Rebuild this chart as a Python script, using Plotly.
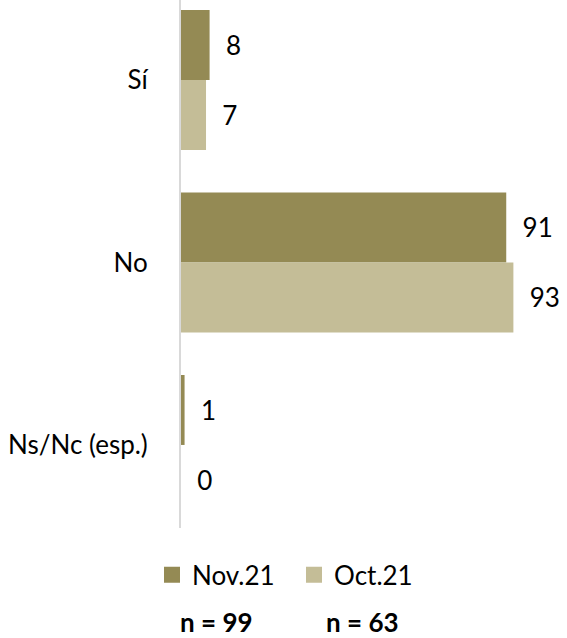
import plotly.graph_objects as go

categories = ["Sí", "No", "Ns/Nc (esp.)"]
series_names = ["Nov.21", "Oct.21"]
nov_values = [8, 91, 1]
oct_values = [7, 93, 0]
sample_labels = ["n = 99", "n = 63"]
colors = ["#948A54", "#C4BD97"]

FONT = "Lato"
fig = go.Figure()
for name, vals, col in zip(series_names, [nov_values, oct_values], colors):
    fig.add_trace(go.Bar(
        y=categories, x=vals, orientation="h", name=name,
        marker=dict(color=col, line=dict(width=0)),
        text=vals, texttemplate="\u00a0\u00a0%{x}", textposition="outside",
        textfont=dict(family=FONT, size=26, color="#000000"),
        constraintext="none", cliponaxis=False, showlegend=False,
    ))
    fig.add_trace(go.Scatter(
        x=[None], y=[None], mode="markers", name=name,
        marker=dict(symbol="square", size=17, color=col), showlegend=True,
    ))

fig.update_layout(
    width=567, height=638,
    margin=dict(l=181, r=0, t=0, b=110),
    paper_bgcolor="white", plot_bgcolor="white",
    barmode="group", bargap=0.233, bargroupgap=0,
    font=dict(family=FONT, size=26, color="#000000"),
    xaxis=dict(range=[0, 108], showgrid=False, zeroline=False, showticklabels=False,
               showline=False, fixedrange=True),
    yaxis=dict(range=[2.455, -0.438], showgrid=False, zeroline=False, showline=True,
               linecolor="#D9D9D9", linewidth=2, ticks="", ticklabelstandoff=26,
               tickfont=dict(family=FONT, size=26, color="#000000")),
    legend=dict(orientation="h", xref="container", yref="container",
                x=152 / 567, xanchor="left", y=0.099, yanchor="middle",
                font=dict(family=FONT, size=26, color="#000000"),
                itemwidth=30, tracegroupgap=0,
                entrywidth=97, entrywidthmode="pixels"),
)

ann_x = [0.0907, 0.469]
for lab, ax in zip(sample_labels, ann_x):
    fig.add_annotation(text="<b>" + lab + "</b>", x=ax, y=-0.178, xref="paper", yref="paper",
                       xanchor="center", yanchor="middle", showarrow=False,
                       font=dict(family=FONT, size=26, color="#000000"))

fig.write_html("out.html")
